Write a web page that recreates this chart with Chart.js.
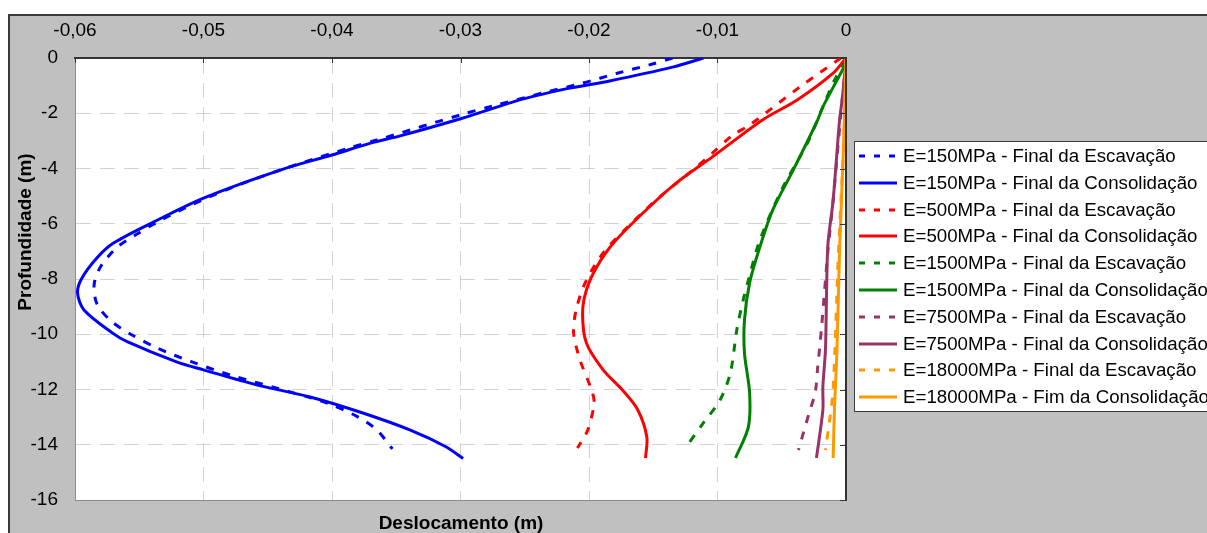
<!DOCTYPE html>
<html>
<head>
<meta charset="utf-8">
<script src="https://cdn.jsdelivr.net/npm/chart.js@4.4.0/dist/chart.umd.min.js"></script>
<style>
  html, body { margin: 0; padding: 0; background: #fff; overflow: hidden; }
</style>
</head>
<body>
<canvas id="chart" width="1207" height="533"></canvas>
<script>
// [deslocamento (m), profundidade (m)]
const e150Esc = [[-0.0135, 0], [-0.0153, -0.25], [-0.0178, -0.55], [-0.0205, -0.91], [-0.0233, -1.23],
  [-0.0275, -1.74], [-0.0298, -2.03], [-0.0365, -2.97], [-0.0384, -3.22], [-0.0438, -4.02], [-0.0479, -4.71],
  [-0.0508, -5.29], [-0.0536, -5.94], [-0.0553, -6.41], [-0.0567, -6.84], [-0.0580, -7.55], [-0.0585, -8.16],
  [-0.0584, -8.76], [-0.0580, -9.12], [-0.0571, -9.56], [-0.0557, -9.99], [-0.0536, -10.5], [-0.0509, -11.0],
  [-0.0479, -11.48], [-0.0443, -11.95], [-0.0404, -12.49], [-0.0380, -12.99], [-0.0365, -13.47], [-0.0353, -14.15]];
const e150Cons = [[-0.0111, 0], [-0.0135, -0.33], [-0.0184, -0.83], [-0.0215, -1.09], [-0.0251, -1.48],
  [-0.0300, -2.2], [-0.0347, -2.82], [-0.0370, -3.08], [-0.0400, -3.51], [-0.0438, -4.02], [-0.0500, -5.07],
  [-0.0539, -5.94], [-0.0570, -6.70], [-0.0583, -7.24], [-0.0595, -8.0], [-0.0598, -8.51], [-0.0593, -9.12],
  [-0.0571, -9.95], [-0.0559, -10.28], [-0.0521, -11.0], [-0.0500, -11.29], [-0.0458, -11.84], [-0.0417, -12.27],
  [-0.0376, -12.85], [-0.0339, -13.47], [-0.0311, -14.08], [-0.0298, -14.5]];
const e500Esc = [[-0.0004, 0], [-0.0036, -1.05], [-0.0075, -2.43], [-0.0088, -2.79], [-0.0104, -3.44],
  [-0.0119, -4.05], [-0.0145, -5.03], [-0.0170, -6.12], [-0.0189, -7.06], [-0.0203, -8.14], [-0.0210, -9.12],
  [-0.0212, -9.95], [-0.0207, -10.93], [-0.0198, -12.02], [-0.0196, -12.49], [-0.0201, -13.47], [-0.0209, -14.12]];
const e500Cons = [[0, 0], [-0.0010, -0.55], [-0.0038, -1.52], [-0.0065, -2.24], [-0.0104, -3.58],
  [-0.0132, -4.52], [-0.0158, -5.61], [-0.0181, -6.70], [-0.0194, -7.57], [-0.0202, -8.40], [-0.0205, -9.23],
  [-0.0202, -10.32], [-0.0189, -11.29], [-0.0174, -12.02], [-0.0162, -12.74], [-0.0155, -13.72], [-0.0156, -14.48]];
const e1500Esc = [[0, -0.1], [-0.0009, -0.8], [-0.0018, -1.77], [-0.0030, -3.08], [-0.0049, -4.67],
  [-0.0067, -6.59], [-0.0076, -8.04], [-0.0080, -8.76], [-0.0085, -9.85], [-0.0090, -11.40], [-0.0098, -12.38],
  [-0.0111, -13.21], [-0.0125, -14.12]];
const e1500Cons = [[0, -0.2], [-0.0018, -1.77], [-0.0022, -2.24], [-0.0041, -4.05], [-0.0057, -5.50],
  [-0.0067, -6.84], [-0.0075, -8.14], [-0.0079, -9.48], [-0.0079, -10.68], [-0.0075, -12.13], [-0.0076, -13.36],
  [-0.0086, -14.48]];
const e7500Esc = [[0, -0.1], [-0.0003, -1.52], [-0.0010, -5.14], [-0.0014, -6.95], [-0.0019, -9.74],
  [-0.0022, -11.19], [-0.0024, -12.13], [-0.0028, -12.74], [-0.0037, -14.19]];
const e7500Cons = [[0, -0.1], [-0.0003, -1.52], [-0.0005, -2.24], [-0.0010, -5.14], [-0.0014, -6.70],
  [-0.0015, -8.14], [-0.0016, -10.57], [-0.0018, -11.9], [-0.0018, -12.74], [-0.0023, -14.48]];
const e18000Esc = [[0, 0], [-0.0002, -3.3], [-0.0006, -7.2], [-0.0010, -12.0], [-0.0013, -13.2], [-0.0016, -14.19]];
const e18000Cons = [[0, 0], [-0.0002, -3.33], [-0.0005, -6.95], [-0.0007, -10.57], [-0.0009, -12.74], [-0.0010, -14.48]];

const seriesLabels = [
  "E=150MPa - Final da Escavação", "E=150MPa - Final da Consolidação",
  "E=500MPa - Final da Escavação", "E=500MPa - Final da Consolidação",
  "E=1500MPa - Final da Escavação", "E=1500MPa - Final da Consolidação",
  "E=7500MPa - Final da Escavação", "E=7500MPa - Final da Consolidação",
  "E=18000MPa - Final da Escavação", "E=18000MPa - Fim da Consolidação"
];

const xTicks = [-0.06, -0.05, -0.04, -0.03, -0.02, -0.01, 0];
const xTickLabels = ["-0,06", "-0,05", "-0,04", "-0,03", "-0,02", "-0,01", "0"];
const yTicks = [-16, -14, -12, -10, -8, -6, -4, -2, 0];
const yTickLabels = ["-16", "-14", "-12", "-10", "-8", "-6", "-4", "-2", "0"];

const xTitle = "Deslocamento (m)";
const yTitle = "Profundidade (m)";

const FONT = "'Liberation Sans', Arial, sans-serif";
const seriesData = [e150Esc, e150Cons, e500Esc, e500Cons, e1500Esc, e1500Cons, e7500Esc, e7500Cons, e18000Esc, e18000Cons];
const colors = ["#0000ff", "#0000ff", "#ff0000", "#ff0000", "#008000", "#008000", "#993366", "#993366", "#ff9900", "#ff9900"];

const datasets = seriesData.map((pts, i) => ({
  label: seriesLabels[i],
  data: pts.map(p => ({ x: p[0], y: p[1] })),
  borderColor: colors[i],
  backgroundColor: colors[i],
  borderWidth: 3,
  borderDash: i % 2 === 0 ? [8, 9] : [],
  showLine: true,
  pointRadius: 0,
  tension: 0.3,
  fill: false,
  order: seriesData.length - i
}));

// =========================
// FRAME, TITLES, LEGEND
// =========================
const decor = {
  id: "decor",
  beforeDraw(chart) {
    const ctx = chart.ctx;
    const a = chart.chartArea;
    ctx.save();
    ctx.fillStyle = "#ffffff";
    ctx.fillRect(0, 0, chart.width, chart.height);
    ctx.fillStyle = "#c0c0c0";
    ctx.fillRect(8, 14, chart.width, chart.height);
    ctx.strokeStyle = "#3a3a3a";
    ctx.lineWidth = 2;
    ctx.beginPath();
    ctx.moveTo(9, chart.height);
    ctx.lineTo(9, 15);
    ctx.lineTo(chart.width, 15);
    ctx.stroke();
    ctx.fillStyle = "#ffffff";
    ctx.fillRect(a.left, a.top, a.right - a.left, a.bottom - a.top);
    ctx.restore();
  },
  afterDraw(chart) {
    const ctx = chart.ctx;
    const a = chart.chartArea;
    const xs = chart.scales.x, ys = chart.scales.y;
    ctx.save();
    // plot borders
    ctx.lineWidth = 1;
    ctx.strokeStyle = "#8c8c8c";
    ctx.beginPath();
    ctx.moveTo(a.left + 0.5, a.top);
    ctx.lineTo(a.left + 0.5, a.bottom + 0.5);
    ctx.lineTo(a.right, a.bottom + 0.5);
    ctx.stroke();
    ctx.strokeStyle = "#333333";
    ctx.lineWidth = 2;
    ctx.beginPath();
    ctx.moveTo(a.right, a.top);
    ctx.lineTo(a.right, a.bottom + 1);
    ctx.stroke();
    // inside tick marks
    ctx.lineWidth = 1;
    ctx.beginPath();
    xTicks.forEach(v => {
      const px = Math.round(xs.getPixelForValue(v)) + 0.5;
      ctx.moveTo(px, a.top);
      ctx.lineTo(px, a.top + 5);
    });
    yTicks.forEach(v => {
      const py = Math.round(ys.getPixelForValue(v)) + 0.5;
      ctx.moveTo(a.right - 6, py);
      ctx.lineTo(a.right, py);
    });
    ctx.stroke();

    // axis titles
    ctx.fillStyle = "#000";
    ctx.font = "bold 19px " + FONT;
    ctx.textAlign = "center";
    ctx.textBaseline = "middle";
    ctx.fillText(xTitle, 461, 524);
    ctx.save();
    ctx.translate(26, 232);
    ctx.rotate(-Math.PI / 2);
    ctx.fillText(yTitle, 0, 0);
    ctx.restore();

    // legend
    const lx = 854, ly = 141;
    ctx.fillStyle = "#ffffff";
    ctx.fillRect(lx, ly, 400, 270);
    ctx.strokeStyle = "#3a3a3a";
    ctx.lineWidth = 1;
    ctx.strokeRect(lx + 0.5, ly + 0.5, 400, 270);
    ctx.font = "18.7px " + FONT;
    ctx.textAlign = "left";
    ctx.textBaseline = "middle";
    chart.data.datasets.forEach((ds, i) => {
      const y = Math.round(156 + i * 26.8);
      ctx.strokeStyle = ds.borderColor;
      ctx.lineWidth = 3;
      ctx.setLineDash(ds.borderDash.length ? [6, 9] : []);
      ctx.beginPath();
      ctx.moveTo(859, y);
      ctx.lineTo(897, y);
      ctx.stroke();
      ctx.setLineDash([]);
      ctx.fillStyle = "#000";
      ctx.fillText(ds.label, 903, y + 1);
    });
    ctx.restore();
  }
};

new Chart(document.getElementById("chart").getContext("2d"), {
  type: "scatter",
  data: { datasets },
  options: {
    responsive: false,
    animation: false,
    devicePixelRatio: 1,
    layout: { padding: { left: 0, top: 0, right: 361, bottom: 33 } },
    plugins: {
      legend: { display: false },
      tooltip: { enabled: false }
    },
    scales: {
      x: {
        type: "linear",
        position: "top",
        min: -0.06,
        max: 0,
        afterFit: s => { s.height = 58; },
        afterBuildTicks: s => { s.ticks = xTicks.map(v => ({ value: v })); },
        ticks: {
          padding: 16,
          color: "#000",
          maxRotation: 0,
          autoSkip: false,
          font: { family: FONT, size: 19 },
          callback: (v, i) => xTickLabels[i]
        },
        grid: { color: "#d2d2d2", drawTicks: false, lineWidth: 1 },
        border: { color: "#333333", width: 2, dash: [15, 9] }
      },
      y: {
        type: "linear",
        position: "left",
        min: -16,
        max: 0,
        afterFit: s => { s.width = 75; },
        afterBuildTicks: s => { s.ticks = yTicks.map(v => ({ value: v })); },
        ticks: {
          padding: 17,
          color: "#000",
          autoSkip: false,
          font: { family: FONT, size: 19 },
          callback: (v, i) => yTickLabels[i]
        },
        grid: { color: "#d2d2d2", drawTicks: false, lineWidth: 1 },
        border: { color: "#8c8c8c", width: 1, dash: [15, 9] }
      }
    }
  },
  plugins: [decor]
});
</script>
</body>
</html>
